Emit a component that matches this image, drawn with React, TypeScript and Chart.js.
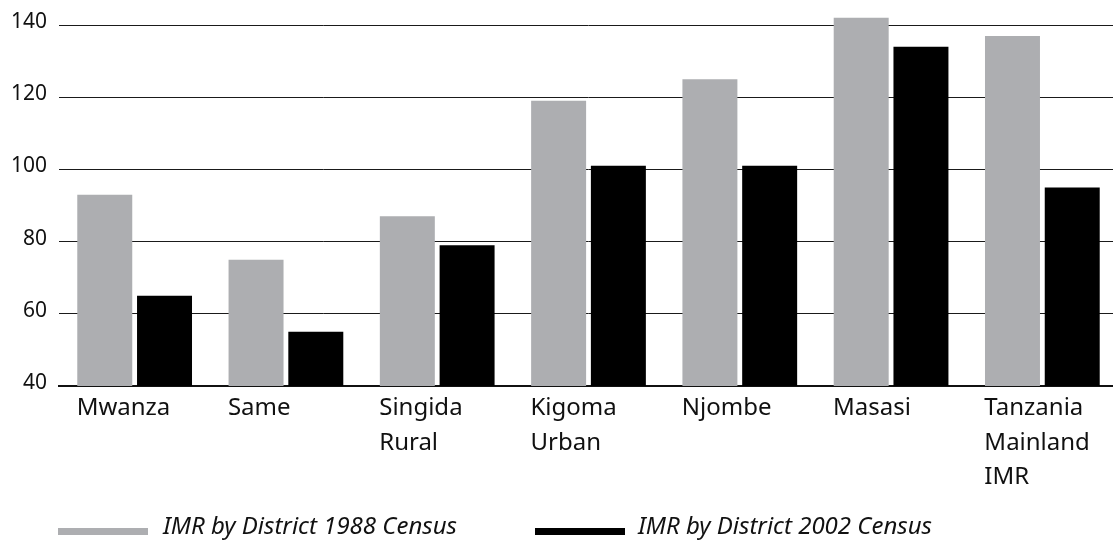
import React, { useEffect, useRef } from "react";
import { Chart, registerables } from "chart.js";

Chart.register(...registerables);

const categories: string[][] = [
  ["Mwanza"],
  ["Same"],
  ["Singida", "Rural"],
  ["Kigoma", "Urban"],
  ["Njombe"],
  ["Masasi"],
  ["Tanzania", "Mainland", "IMR"],
];
const imr1988: number[] = [93, 75, 87, 119, 125, 142, 137];
const imr2002: number[] = [65, 55, 79, 101, 101, 134, 95];
const seriesLabels: string[] = ["IMR by District 1988 Census", "IMR by District 2002 Census"];
const seriesColors: string[] = ["#adaeb1", "#000000"];
const yTickValues: number[] = [40, 60, 80, 100, 120, 140];

const FONT = "'Noto Sans', 'Open Sans', sans-serif";

export default function App() {
  const ref = useRef<HTMLCanvasElement | null>(null);

  useEffect(() => {
    if (!ref.current) return;
    const chart = new Chart(ref.current, {
      type: "bar",
      data: {
        labels: categories,
        datasets: [
          {
            label: seriesLabels[0],
            data: imr1988,
            backgroundColor: seriesColors[0],
            categoryPercentage: 0.79,
            barPercentage: 0.92,
          },
          {
            label: seriesLabels[1],
            data: imr2002,
            backgroundColor: seriesColors[1],
            categoryPercentage: 0.79,
            barPercentage: 0.92,
          },
        ],
      },
      options: {
        animation: false,
        responsive: true,
        maintainAspectRatio: false,
        layout: { padding: { top: 7, left: 0, right: 0, bottom: 0 } },
        plugins: {
          legend: { display: false },
          tooltip: { enabled: false },
        },
        scales: {
          x: {
            grid: { display: false, drawTicks: false },
            border: { display: true, color: "#111", width: 2 },
            ticks: {
              align: "start",
              labelOffset: -58,
              padding: 5,
              color: "#111",
              autoSkip: false,
              maxRotation: 0,
              font: { family: FONT, size: 24, lineHeight: 1.44 },
            },
            afterFit: (s: any) => {
              s.height = 156;
              s.paddingLeft = 0;
              s.paddingRight = 0;
            },
          },
          y: {
            min: 40,
            max: 145,
            border: { display: false },
            grid: {
              drawTicks: false,
              lineWidth: 1,
              color: (ctx: any) =>
                ctx.tick && ctx.tick.value === 40 ? "rgba(0,0,0,0)" : "#1a1a1a",
            },
            ticks: {
              padding: 12,
              labelOffset: -3,
              color: "#111",
              font: { family: FONT, size: 21 },
            },
            afterBuildTicks: (s: any) => {
              s.ticks = yTickValues.map((v) => ({ value: v }));
            },
            afterFit: (s: any) => {
              s.width = 59;
              s.paddingTop = 0;
              s.paddingBottom = 0;
            },
          },
        },
      },
    });
    return () => chart.destroy();
  }, []);

  const legendLineLeft = [58, 535];
  const legendTextLeft = [163, 638];

  return (
    <div
      style={{
        position: "fixed",
        left: 0,
        top: 0,
        width: 1113,
        height: 542,
        overflow: "hidden",
        background: "#fff",
      }}
    >
      <div style={{ position: "absolute", left: 0, top: 0, width: 1118, height: 542 }}>
        <canvas ref={ref} style={{ display: "block" }} />
      </div>
      {seriesLabels.map((label, i) => (
        <React.Fragment key={label}>
          <div
            style={{
              position: "absolute",
              left: legendLineLeft[i],
              top: 528,
              width: 90,
              height: 7,
              background: seriesColors[i],
            }}
          />
          <div
            style={{
              position: "absolute",
              left: legendTextLeft[i],
              top: 508,
              fontFamily: FONT,
              fontStyle: "italic",
              fontSize: 24,
              lineHeight: "normal",
              color: "#111",
              whiteSpace: "nowrap",
            }}
          >
            {label}
          </div>
        </React.Fragment>
      ))}
    </div>
  );
}
